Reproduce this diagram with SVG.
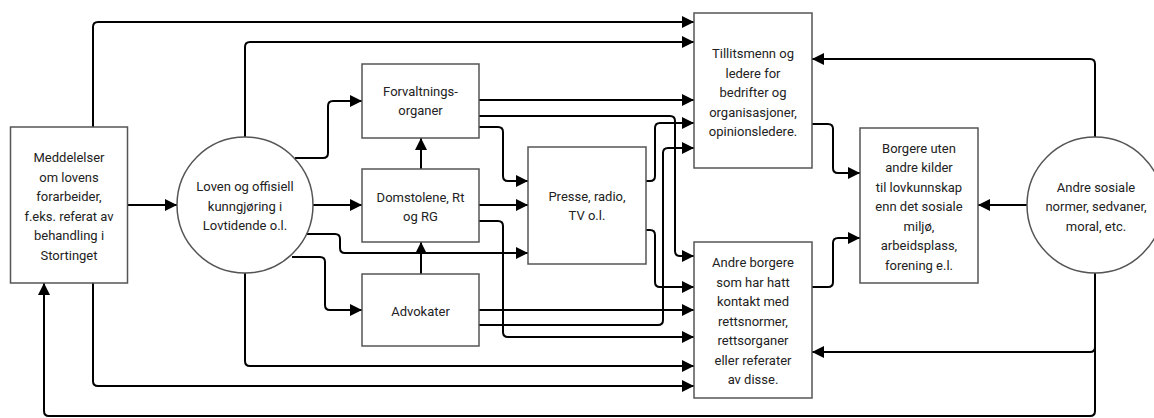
<svg xmlns="http://www.w3.org/2000/svg" width="1154" height="418" viewBox="0 0 1154 418">
<style>
.box{fill:#fff;stroke:#555;stroke-width:1.5}
.c{fill:none;stroke:#000;stroke-width:2}
.a{marker-end:url(#arr)}
text{font-family:Roboto,"Liberation Sans",sans-serif;font-size:13px;fill:#222;text-anchor:middle}
</style>
<defs>
<marker id="arr" markerUnits="userSpaceOnUse" markerWidth="12" markerHeight="12" refX="12" refY="6" orient="auto">
<path d="M0,0 L12,6 L0,12 z" fill="#000"/>
</marker>
</defs>
<rect width="1154" height="418" fill="#fff"/>
<g id="connectors">
<path class="c a" d="M128,205 H177"/>
<path class="c a" d="M313,205 H362"/>
<path class="c a" d="M93,127 V27 Q93,22 98,22 H694"/>
<path class="c a" d="M245,137 V47 Q245,42 250,42 H694"/>
<path class="c a" d="M295,158 H323 Q328,158 328,153 V106 Q328,101 333,101 H362"/>
<path class="c a" d="M421,169 V138"/>
<path class="c a" d="M421,274 V242"/>
<path class="c a" d="M292,257 H320 Q325,257 325,262 V305 Q325,310 330,310 H362"/>
<path class="c a" d="M306,234 H335 Q340,234 340,239 V248 Q340,253 345,253 H528"/>
<path class="c a" d="M245,273 V361 Q245,366 250,366 H694"/>
<path class="c a" d="M93,283 V381 Q93,386 98,386 H694"/>
<path class="c a" d="M1095,273 V411 Q1095,416 1090,416 H49 Q44,416 44,411 V283"/>
<path class="c a" d="M1095,347 Q1095,352 1090,352 H812"/>
<path class="c a" d="M1027,205 H978"/>
<path class="c a" d="M1095,137 V64 Q1095,59 1090,59 H812"/>
<path class="c a" d="M812,124 H828 Q833,124 833,129 V168 Q833,173 838,173 H860"/>
<path class="c a" d="M812,287 H828 Q833,287 833,282 V243 Q833,238 838,238 H860"/>
<path class="c a" d="M479,100 H694"/>
<path class="c a" d="M479,116 H670 Q675,116 675,121 V251 Q675,256 680,256 H694"/>
<path class="c a" d="M479,127 H498 Q503,127 503,132 V176 Q503,181 508,181 H528"/>
<path class="c a" d="M646,181 H650 Q655,181 655,176 V128 Q655,123 660,123 H694"/>
<path class="c a" d="M646,230 H650 Q655,230 655,235 V282 Q655,287 660,287 H694"/>
<path class="c a" d="M479,205 H528"/>
<path class="c a" d="M479,221 H498 Q503,221 503,226 V332 Q503,337 508,337 H694"/>
<path class="c a" d="M479,310 H694"/>
<path class="c a" d="M479,325 H658 Q663,325 663,320 V153 Q663,148 668,148 H694"/>
</g>
<g id="meddelelser">
<rect class="box" x="10.5" y="127" width="117" height="156"/>
<text x="69" y="162">Meddelelser</text>
<text x="69" y="181.5">om lovens</text>
<text x="69" y="201">forarbeider,</text>
<text x="69" y="220.5">f.eks. referat av</text>
<text x="69" y="240">behandling i</text>
<text x="69" y="259.5">Stortinget</text>
</g>
<g id="loven">
<circle class="box" cx="245" cy="205" r="68"/>
<text x="245" y="191">Loven og offisiell</text>
<text x="245" y="210.5">kunngjøring i</text>
<text x="245" y="230">Lovtidende o.l.</text>
</g>
<g id="forvaltning">
<rect class="box" x="362" y="64" width="117" height="74"/>
<text x="420.5" y="95.5">Forvaltnings-</text>
<text x="420.5" y="115">organer</text>
</g>
<g id="domstolene">
<rect class="box" x="362" y="169" width="117" height="73"/>
<text x="420.5" y="201.5">Domstolene, Rt</text>
<text x="420.5" y="221">og RG</text>
</g>
<g id="advokater">
<rect class="box" x="362" y="274" width="117" height="72"/>
<text x="420.5" y="316">Advokater</text>
</g>
<g id="presse">
<rect class="box" x="528" y="147" width="118" height="117"/>
<text x="587" y="200.5">Presse, radio,</text>
<text x="587" y="220">TV o.l.</text>
</g>
<g id="tillitsmenn">
<rect class="box" x="694" y="13" width="118" height="155"/>
<text x="753" y="58">Tillitsmenn og</text>
<text x="753" y="77.5">ledere for</text>
<text x="753" y="97">bedrifter og</text>
<text x="753" y="116.5">organisasjoner,</text>
<text x="753" y="136">opinionsledere.</text>
</g>
<g id="andre-borgere">
<rect class="box" x="694" y="242" width="118" height="156"/>
<text x="753" y="267">Andre borgere</text>
<text x="753" y="286.5">som har hatt</text>
<text x="753" y="306">kontakt med</text>
<text x="753" y="325.5">rettsnormer,</text>
<text x="753" y="345">rettsorganer</text>
<text x="753" y="364.5">eller referater</text>
<text x="753" y="384">av disse.</text>
</g>
<g id="borgere-uten">
<rect class="box" x="860" y="128" width="118" height="155"/>
<text x="919" y="152.5">Borgere uten</text>
<text x="919" y="172">andre kilder</text>
<text x="919" y="191.5">til lovkunnskap</text>
<text x="919" y="211">enn det sosiale</text>
<text x="919" y="230.5">miljø,</text>
<text x="919" y="250">arbeidsplass,</text>
<text x="919" y="269.5">forening e.l.</text>
</g>
<g id="andre-sosiale">
<circle class="box" cx="1095" cy="205" r="68"/>
<text x="1096" y="191.5">Andre sosiale</text>
<text x="1096" y="211">normer, sedvaner,</text>
<text x="1096" y="230.5">moral, etc.</text>
</g>
</svg>
